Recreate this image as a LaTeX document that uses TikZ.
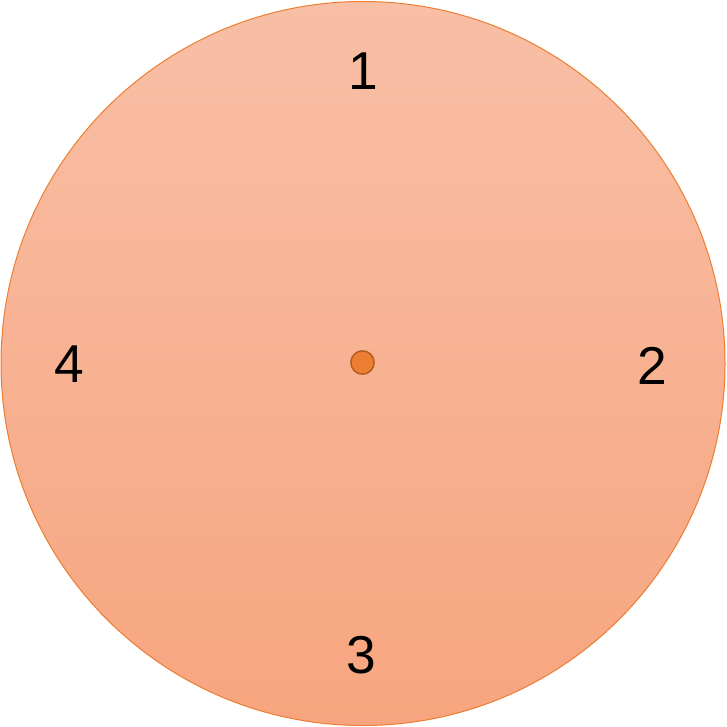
\documentclass[tikz,border=0pt]{standalone}
\usepackage{fontspec}
\setmainfont{Liberation Sans}
\definecolor{topc}{HTML}{F8BFA6}
\definecolor{botc}{HTML}{F7A57F}
\definecolor{rimc}{HTML}{ED7D31}
\definecolor{dotc}{HTML}{ED7D31}
\definecolor{dotrim}{HTML}{B05D22}
\tikzset{
  lbl/.style={inner sep=0pt, font=\fontsize{40}{40}\selectfont, text=black},
}
\begin{document}
\begin{tikzpicture}[x=0.75pt,y=-0.75pt]
\useasboundingbox (0,0) rectangle (726,727);
\path[draw=rimc, line width=0.75pt, top color=topc, bottom color=botc] (363,363.5) circle (362);
\node[circle, minimum size=17.5pt, inner sep=0pt, fill=dotc, draw=dotrim, line width=1.1pt] (c) at (362.5,362.5) {};
\node[lbl] (n1) at (363,71) {1};
\node[lbl] (n2) at (652,366) {2};
\node[lbl] (n3) at (361,655) {3};
\node[lbl] (n4) at (69,364) {4};
\end{tikzpicture}
\end{document}
